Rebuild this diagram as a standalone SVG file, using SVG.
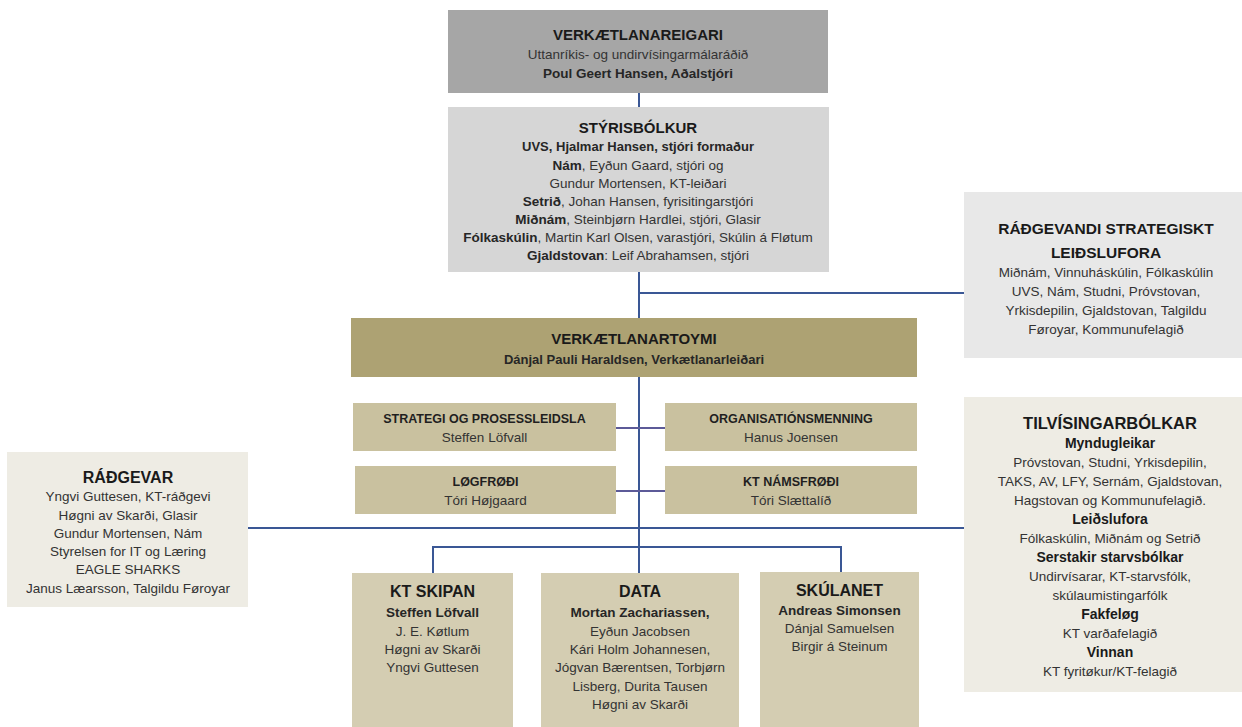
<svg xmlns="http://www.w3.org/2000/svg" width="1242" height="727" viewBox="0 0 1242 727">
<style>
text{font-family:"Liberation Sans",Arial,sans-serif;text-anchor:middle;fill:#333333;font-size:13.5px}
.t{font-weight:bold;fill:#1a1a1a;font-size:15px}
.b{font-weight:bold;fill:#262626}
.s{font-weight:bold;fill:#1f1f1f;font-size:12.5px}
.bt{font-weight:bold;fill:#1a1a1a;font-size:16px}
.h{font-weight:bold;fill:#1a1a1a;font-size:14px}
.c{stroke:#3a5795;stroke-width:2;fill:none}
.cp{stroke:#5c5a98;stroke-width:2;fill:none}
</style>
<rect width="1242" height="727" fill="#ffffff"/>
<g id="connectors">
<path class="c" d="M639 93V107M639 272V318M639 293H964M639 377V547M248 528H964M433 573V547H841V573M639 547V573"/>
<path class="cp" d="M616 428H665M616 491H665"/>
</g>
<g id="eigari">
<rect x="448" y="10" width="380" height="83" fill="#a6a6a6"/>
<text x="638" y="40" class="t">VERKÆTLANAREIGARI</text>
<text x="638" y="59">Uttanríkis- og undirvísingarmálaráðið</text>
<text x="638" y="78" class="b">Poul Geert Hansen, Aðalstjóri</text>
</g>
<g id="styrisbolkur">
<rect x="448" y="107" width="381" height="165" fill="#d6d6d6"/>
<text x="638" y="133" class="t">STÝRISBÓLKUR</text>
<text x="638" y="151" class="b" style="font-size:13px">UVS, Hjalmar Hansen, stjóri formaður</text>
<text x="638" y="170"><tspan class="b">Nám</tspan>, Eyðun Gaard, stjóri og</text>
<text x="638" y="188">Gundur Mortensen, KT-leiðari</text>
<text x="638" y="206"><tspan class="b">Setrið</tspan>, Johan Hansen, fyrisitingarstjóri</text>
<text x="638" y="224"><tspan class="b">Miðnám</tspan>, Steinbjørn Hardlei, stjóri, Glasir</text>
<text x="638" y="242"><tspan class="b">Fólkaskúlin</tspan>, Martin Karl Olsen, varastjóri, Skúlin á Fløtum</text>
<text x="638" y="260"><tspan class="b">Gjaldstovan</tspan>: Leif Abrahamsen, stjóri</text>
</g>
<g id="radgevandi">
<rect x="964" y="192" width="278" height="166" fill="#e8e8e8"/>
<text x="1106" y="234" class="t" style="font-size:15.5px">RÁÐGEVANDI STRATEGISKT</text>
<text x="1106" y="258" class="t" style="font-size:15.5px">LEIÐSLUFORA</text>
<text x="1106" y="277">Miðnám, Vinnuháskúlin, Fólkaskúlin</text>
<text x="1106" y="296">UVS, Nám, Studni, Próvstovan,</text>
<text x="1106" y="315">Yrkisdepilin, Gjaldstovan, Talgildu</text>
<text x="1106" y="334">Føroyar, Kommunufelagið</text>
</g>
<g id="toymi">
<rect x="351" y="318" width="566" height="59" fill="#ada273"/>
<text x="634" y="344" class="t">VERKÆTLANARTOYMI</text>
<text x="634" y="364" class="b" style="font-size:13px">Dánjal Pauli Haraldsen, Verkætlanarleiðari</text>
</g>
<g id="strategi">
<rect x="353" y="403" width="263" height="48" fill="#c9c19f"/>
<text x="484.5" y="423" class="s">STRATEGI OG PROSESSLEIDSLA</text>
<text x="484.5" y="442">Steffen Löfvall</text>
</g>
<g id="organisation">
<rect x="665" y="403" width="252" height="48" fill="#c9c19f"/>
<text x="791" y="423" class="s">ORGANISATIÓNSMENNING</text>
<text x="791" y="442">Hanus Joensen</text>
</g>
<g id="logfrodi">
<rect x="355" y="466" width="261" height="48" fill="#c9c19f"/>
<text x="485.5" y="486" class="s">LØGFRØÐI</text>
<text x="485.5" y="505">Tóri Højgaard</text>
</g>
<g id="namsfrodi">
<rect x="665" y="466" width="252" height="48" fill="#c9c19f"/>
<text x="791" y="486" class="s">KT NÁMSFRØÐI</text>
<text x="791" y="505">Tóri Slættalíð</text>
</g>
<g id="radgevar">
<rect x="7" y="452" width="241" height="155" fill="#eeece4"/>
<text x="128" y="483" class="bt">RÁÐGEVAR</text>
<text x="128" y="501">Yngvi Guttesen, KT-ráðgevi</text>
<text x="128" y="520">Høgni av Skarði, Glasir</text>
<text x="128" y="538">Gundur Mortensen, Nám</text>
<text x="128" y="556">Styrelsen for IT og Læring</text>
<text x="128" y="574">EAGLE SHARKS</text>
<text x="128" y="593">Janus Læarsson, Talgildu Føroyar</text>
</g>
<g id="tilvisingar">
<rect x="964" y="397" width="278" height="295" fill="#eeece4"/>
<text x="1110" y="429" class="bt" style="font-size:16.5px">TILVÍSINGARBÓLKAR</text>
<text x="1110" y="448" class="h">Myndugleikar</text>
<text x="1110" y="467">Próvstovan, Studni, Yrkisdepilin,</text>
<text x="1110" y="486">TAKS, AV, LFY, Sernám, Gjaldstovan,</text>
<text x="1110" y="505">Hagstovan og Kommunufelagið.</text>
<text x="1110" y="524" class="h">Leiðslufora</text>
<text x="1110" y="543">Fólkaskúlin, Miðnám og Setrið</text>
<text x="1110" y="562" class="h">Serstakir starvsbólkar</text>
<text x="1110" y="581">Undirvísarar, KT-starvsfólk,</text>
<text x="1110" y="600">skúlaumistingarfólk</text>
<text x="1110" y="619" class="h">Fakfeløg</text>
<text x="1110" y="638">KT varðafelagið</text>
<text x="1110" y="657" class="h">Vinnan</text>
<text x="1110" y="676">KT fyritøkur/KT-felagið</text>
</g>
<g id="ktskipan">
<rect x="352" y="573" width="161" height="154" fill="#d4cdb2"/>
<text x="432.5" y="597" class="bt">KT SKIPAN</text>
<text x="432.5" y="617" class="b">Steffen Löfvall</text>
<text x="432.5" y="636">J. E. Køtlum</text>
<text x="432.5" y="654">Høgni av Skarði</text>
<text x="432.5" y="672">Yngvi Guttesen</text>
</g>
<g id="data">
<rect x="541" y="573" width="198" height="154" fill="#d4cdb2"/>
<text x="640" y="597" class="bt">DATA</text>
<text x="640" y="617" class="b">Mortan Zachariassen,</text>
<text x="640" y="636">Eyðun Jacobsen</text>
<text x="640" y="654">Kári Holm Johannesen,</text>
<text x="640" y="672">Jógvan Bærentsen, Torbjørn</text>
<text x="640" y="691">Lisberg, Durita Tausen</text>
<text x="640" y="709">Høgni av Skarði</text>
</g>
<g id="skulanet">
<rect x="760" y="572" width="159" height="155" fill="#d4cdb2"/>
<text x="839.5" y="596" class="bt">SKÚLANET</text>
<text x="839.5" y="615" class="b">Andreas Simonsen</text>
<text x="839.5" y="633">Dánjal Samuelsen</text>
<text x="839.5" y="651">Birgir á Steinum</text>
</g>
</svg>
